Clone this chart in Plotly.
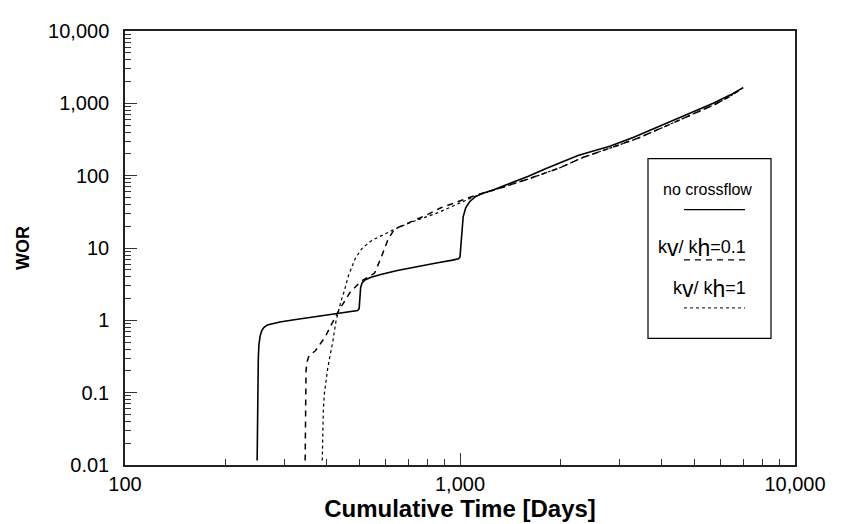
import plotly.graph_objects as go

# ---- data ----
nocf_days = [248, 248.5, 249, 250, 251, 253, 256, 260, 266, 275, 290, 320, 360, 410, 460, 495,
             500, 502, 505, 510, 520, 540, 580, 650, 750, 850, 950, 990,
             1000, 1005, 1012, 1022, 1040, 1070, 1110, 1170, 1250, 1400, 1600, 1800, 2000,
             2250, 2500, 2800, 3300, 4000, 4800, 5700, 6400, 7000]
nocf_wor = [0.0115, 0.05, 0.15, 0.3, 0.45, 0.6, 0.72, 0.8, 0.86, 0.9, 0.95, 1.02, 1.1, 1.2, 1.3, 1.37,
            1.45, 2.0, 2.8, 3.3, 3.6, 3.9, 4.3, 4.9, 5.6, 6.2, 6.8, 7.1,
            7.5, 10, 17, 27, 36, 44, 51, 57, 63, 77, 98, 125, 152,
            190, 220, 255, 340, 500, 720, 1000, 1300, 1650]

kv01_days = [345, 345.5, 346, 347, 349, 353, 359, 370, 395, 432, 470, 506, 524, 556, 581, 610, 638,
             710, 800, 877, 1000, 1132, 1300, 1600, 2000, 2300, 2800, 3400, 4100, 4900, 5800, 6400, 7000]
kv01_wor = [0.0115, 0.05, 0.12, 0.2, 0.26, 0.31, 0.34, 0.38, 0.58, 1.3, 2.45, 3.46, 3.8, 4.5, 7.3, 13.2, 18.3,
            22.5, 29, 36, 45, 55, 66, 90, 130, 175, 240, 330, 480, 700, 980, 1250, 1650]

kv1_days = [388, 389, 391, 394, 398, 403, 408, 417, 426, 440, 452, 465, 487, 509, 545, 598, 655,
            735, 860, 1000, 1132, 1300, 1600, 2000, 2300, 2800, 3400, 4100, 4900, 5800, 6400, 7000]
kv1_wor = [0.0115, 0.03, 0.06, 0.1, 0.15, 0.22, 0.3, 0.5, 0.95, 1.75, 2.6, 4.2, 7.2, 9.8, 12.7, 15.6, 19.3,
           23.8, 30.8, 42, 54, 66, 90, 130, 175, 240, 330, 480, 700, 980, 1250, 1650]

x_tickvals = [100, 1000, 10000]
x_ticktext = ["100", "1,000", "10,000"]
y_tickvals = [0.01, 0.1, 1, 10, 100, 1000, 10000]
y_ticktext = ["0.01", "0.1", "1", "10", "100", "1,000", "10,000"]

BIGV = "<span style='font-size:23px;baseline-shift:-3px'>v</span>"
BIGH = "<span style='font-size:23px;baseline-shift:-3px'>h</span>"
legend_labels = ["no crossflow",
                 "k" + BIGV + "/ k" + BIGH + "=0.1",
                 "k" + BIGV + "/ k" + BIGH + "=1"]
legend_sizes = [16, 18, 18]
legend_dashes = ["solid", "6px,5px", "dot"]

FONT = "Liberation Sans, Arial, sans-serif"

fig = go.Figure()
fig.add_trace(go.Scatter(x=nocf_days, y=nocf_wor, mode="lines",
                         line=dict(color="black", width=1.6, dash="solid")))
fig.add_trace(go.Scatter(x=kv01_days, y=kv01_wor, mode="lines",
                         line=dict(color="black", width=1.5, dash="6px,5px")))
fig.add_trace(go.Scatter(x=kv1_days, y=kv1_wor, mode="lines",
                         line=dict(color="black", width=1.2, dash="dot")))

fig.update_layout(
    width=841, height=524,
    margin=dict(l=117, r=54, t=15, b=67),
    paper_bgcolor="white", plot_bgcolor="white",
    showlegend=False,
    font=dict(family=FONT, color="black", size=20),
)
fig.update_xaxes(type="log", range=[2, 4], tickvals=x_tickvals, ticktext=x_ticktext,
                 ticks="inside", ticklen=12, tickwidth=1.2, tickcolor="#333",
                 showline=True, linecolor="#222", linewidth=1.5, mirror=True,
                 showgrid=False, zeroline=False, tickfont=dict(size=20),
                 minor=dict(ticks="inside", ticklen=6, tickcolor="#333", showgrid=False,
                            tickvals=[v * m for v in [100, 1000] for m in range(2, 10)]),
                 title=dict(text="<b>Cumulative Time [Days]</b>", font=dict(size=24), standoff=3))
fig.update_yaxes(type="log", range=[-2, 4], tickvals=y_tickvals, ticktext=y_ticktext,
                 ticks="inside", ticklen=12, tickwidth=1.2, tickcolor="#333",
                 showline=True, linecolor="#222", linewidth=1.5, mirror=True,
                 showgrid=False, zeroline=False, tickfont=dict(size=20), ticklabelstandoff=10,
                 minor=dict(ticks="inside", ticklen=6, tickcolor="#333", showgrid=False,
                            tickvals=[v * m for v in [0.01, 0.1, 1, 10, 100, 1000] for m in range(2, 10)]),
                 title=dict(text="<b>WOR</b>", font=dict(size=18), standoff=14))

# ---- custom legend box (text above line sample) ----
def px2paper_x(p):
    return (p - 117) / 670.0

def px2paper_y(p):
    return (457 - p) / 442.0

fig.add_shape(type="rect", xref="paper", yref="paper",
              x0=px2paper_x(640), x1=px2paper_x(763), y0=px2paper_y(328), y1=px2paper_y(145),
              line=dict(color="black", width=1.2), fillcolor="white", layer="above")
text_x = [699, 694, 701]
text_y = [176, 236, 278]
line_y = [197, 248, 297]
for lab, sz, dsh, tx, ty, ly in zip(legend_labels, legend_sizes, legend_dashes, text_x, text_y, line_y):
    fig.add_annotation(xref="paper", yref="paper", x=px2paper_x(tx), y=px2paper_y(ty),
                       text=lab, showarrow=False, font=dict(size=sz, family=FONT),
                       xanchor="center", yanchor="middle")
    fig.add_shape(type="line", xref="paper", yref="paper",
                  x0=px2paper_x(676), x1=px2paper_x(737), y0=px2paper_y(ly), y1=px2paper_y(ly),
                  line=dict(color="black", width=1.3 if dsh != "dot" else 1, dash=dsh), layer="above")

fig.write_html("out.html")
